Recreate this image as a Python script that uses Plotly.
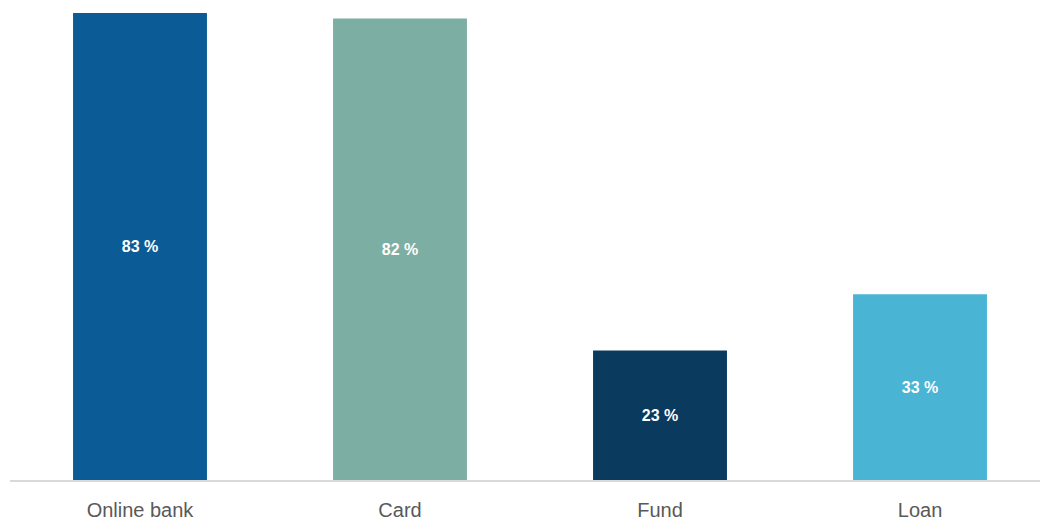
import plotly.graph_objects as go

categories = ["Online bank", "Card", "Fund", "Loan"]
shares = [83, 82, 23, 33]
bar_colors = ["#0b5c96", "#7daea3", "#0a3a5e", "#4ab4d4"]

labels = [f"{v} %" for v in shares]

fig = go.Figure(
    go.Bar(
        x=categories,
        y=shares,
        marker=dict(color=bar_colors, line=dict(width=0)),
        width=0.515,
        text=labels,
        textposition="inside",
        insidetextanchor="middle",
        textangle=0,
        textfont=dict(family="Liberation Sans", size=16, color="white", weight="bold"),
        hoverinfo="skip",
    )
)

fig.update_layout(
    width=1040,
    height=523,
    margin=dict(l=10, r=0, t=0, b=43),
    paper_bgcolor="white",
    plot_bgcolor="white",
    showlegend=False,
    uniformtext=dict(mode=False),
)
fig.update_xaxes(
    type="category",
    range=[-0.5, 3.4615],
    showline=True,
    linecolor="#d9d9d9",
    linewidth=2,
    ticks="",
    showgrid=False,
    ticklabelstandoff=11,
    tickfont=dict(family="Liberation Sans", size=20, color="#595959"),
)
fig.update_yaxes(
    range=[0, 85.3],
    visible=False,
    showgrid=False,
    zeroline=False,
)

fig.write_html("out.html")
